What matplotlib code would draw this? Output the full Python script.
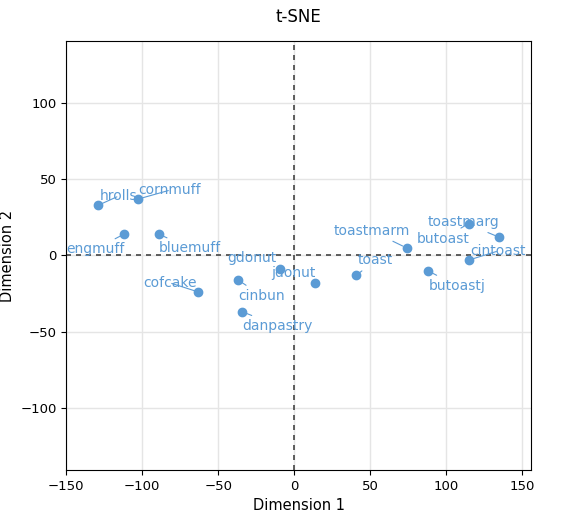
import matplotlib
matplotlib.use("Agg")
import matplotlib.pyplot as plt

labels = ["hrolls", "cornmuff", "engmuff", "bluemuff", "cofcake", "gdonut", "cinbun",
          "danpastry", "jdonut", "toast", "toastmarm", "butoast", "toastmarg",
          "cintoast", "butoastj"]
dim1 = [-129, -103, -112, -89, -63, -9, -37, -34, 14, 41, 74, 115, 135, 115, 88]
dim2 = [33, 37, 14, 14, -24, -9, -16, -37, -18, -13, 5, 21, 12, -3, -10]
# label offsets in pixels (dx right, dy up)
offsets = [(20, 9), (32, 9), (-29, -15), (31, -14), (-28, 9), (-29, 11), (24, -16),
           (35, -14), (-22, 10), (19, 15), (-35, 17), (-26, -15), (-36, 15),
           (29, 9), (29, -15)]

color = "#5B9BD5"
fig, ax = plt.subplots(figsize=(5.76, 5.12), dpi=100)
fig.subplots_adjust(left=0.115, right=0.922, top=0.92, bottom=0.082)

ax.axhline(0, color="#444444", ls=(0, (3, 3)), lw=1.2, zorder=1)
ax.axvline(0, color="#444444", ls=(0, (3, 3)), lw=1.2, zorder=1)
ax.scatter(dim1, dim2, s=36, color=color, zorder=3)
for lab, x, y, (dx, dy) in zip(labels, dim1, dim2, offsets):
    ax.annotate(lab, (x, y), xytext=(dx * 0.72, dy * 0.72), textcoords="offset points",
                ha="center", va="center", color=color, fontsize=10,
                arrowprops=dict(arrowstyle="-", color=color, lw=0.8, shrinkA=1, shrinkB=3))

ax.set_xlim(-150, 156)
ax.set_ylim(-141, 141)
ax.set_xticks([-150, -100, -50, 0, 50, 100, 150])
ax.set_yticks([-100, -50, 0, 50, 100])
ax.grid(True, color="#e5e5e5", lw=1)
ax.set_axisbelow(True)
for s in ax.spines.values():
    s.set_color("black")
ax.tick_params(labelsize=9.5)
ax.set_xlabel("Dimension 1", fontsize=10.5)
ax.set_ylabel("Dimension 2", fontsize=10.5)
ax.set_title("t-SNE", fontsize=12, pad=14)
fig.savefig("out.png")
